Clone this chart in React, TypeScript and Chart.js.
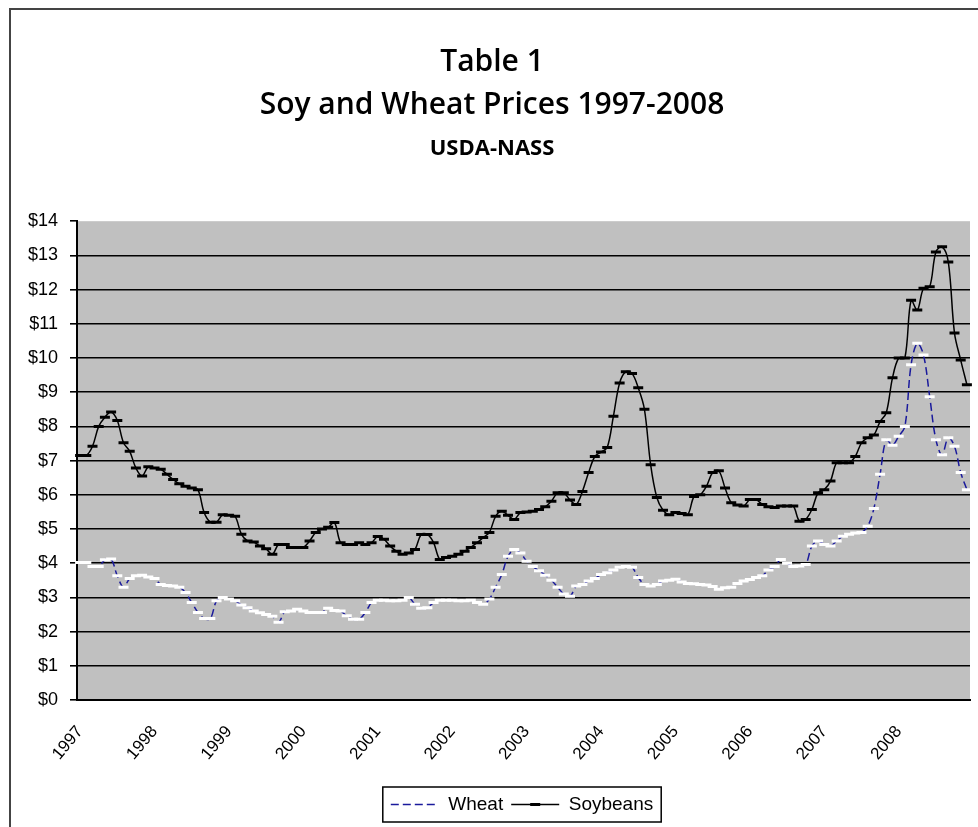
import { useEffect, useRef } from "react";
import { Chart, registerables } from "chart.js";

Chart.register(...registerables);

const years = ["1997", "1998", "1999", "2000", "2001", "2002", "2003", "2004", "2005", "2006", "2007", "2008"];
const monthNames = ["Jan", "Feb", "Mar", "Apr", "May", "Jun", "Jul", "Aug", "Sep", "Oct", "Nov", "Dec"];

// Monthly soybean price, $/bu
const soybeans = [
  7.15, 7.15, 7.42, 8.0, 8.27, 8.42, 8.17, 7.52, 7.27, 6.78, 6.55, 6.82,
  6.78, 6.75, 6.6, 6.45, 6.32, 6.25, 6.2, 6.15, 5.48, 5.2, 5.2, 5.42,
  5.4, 5.37, 4.85, 4.65, 4.62, 4.5, 4.42, 4.26, 4.55, 4.55, 4.46, 4.46,
  4.46, 4.65, 4.9, 5.0, 5.05, 5.19, 4.6, 4.55, 4.55, 4.6, 4.55, 4.6,
  4.78, 4.7, 4.5, 4.35, 4.26, 4.3, 4.4, 4.84, 4.84, 4.6, 4.11, 4.17,
  4.2, 4.26, 4.35, 4.46, 4.6, 4.75, 4.9, 5.37, 5.52, 5.4, 5.28, 5.48,
  5.5, 5.52, 5.57, 5.65, 5.81, 6.06, 6.06, 5.85, 5.72, 6.1, 6.65, 7.12,
  7.25, 7.38, 8.3, 9.27, 9.6, 9.55, 9.13, 8.5, 6.88, 5.92, 5.55, 5.42,
  5.48, 5.45, 5.42, 5.95, 6.0, 6.25, 6.65, 6.7, 6.2, 5.77, 5.7, 5.67,
  5.86, 5.86, 5.72, 5.65, 5.63, 5.67, 5.67, 5.67, 5.23, 5.28, 5.57, 6.06,
  6.15, 6.4, 6.94, 6.94, 6.94, 7.12, 7.52, 7.67, 7.75, 8.14, 8.4, 9.42,
  10.0, 10.0, 11.69, 11.4, 12.04, 12.08, 13.1, 13.25, 12.81, 10.73, 9.94, 9.22,
];

// Monthly wheat price, $/bu
const wheat = [
  4.02, 4.02, 3.9, 3.9, 4.1, 4.12, 3.63, 3.3, 3.55, 3.63, 3.65, 3.6,
  3.55, 3.38, 3.35, 3.33, 3.3, 3.14, 2.85, 2.56, 2.38, 2.38, 2.9, 3.0,
  2.95, 2.9, 2.78, 2.7, 2.6, 2.55, 2.5, 2.45, 2.27, 2.58, 2.6, 2.65,
  2.6, 2.56, 2.56, 2.56, 2.68, 2.62, 2.6, 2.46, 2.36, 2.36, 2.56, 2.85,
  2.92, 2.92, 2.9, 2.9, 2.92, 3.0, 2.8, 2.68, 2.7, 2.85, 2.92, 2.92,
  2.92, 2.9, 2.9, 2.92, 2.85, 2.8, 2.95, 3.3, 3.67, 4.2, 4.4, 4.3,
  4.06, 3.9, 3.78, 3.65, 3.5, 3.3, 3.1, 3.03, 3.33, 3.38, 3.48, 3.55,
  3.67, 3.72, 3.8, 3.88, 3.9, 3.88, 3.58, 3.38, 3.33, 3.38, 3.48, 3.5,
  3.53, 3.45, 3.41, 3.4, 3.38, 3.36, 3.32, 3.24, 3.28, 3.3, 3.41, 3.48,
  3.52, 3.58, 3.63, 3.8, 3.9, 4.11, 4.0, 3.9, 3.92, 3.96, 4.5, 4.65,
  4.55, 4.5, 4.65, 4.79, 4.85, 4.88, 4.9, 5.08, 5.6, 6.6, 7.61, 7.45,
  7.71, 8.0, 9.8, 10.43, 10.09, 8.87, 7.61, 7.17, 7.67, 7.42, 6.65, 6.15,
];

const yMin = 0;
const yMax = 14;
const yStep = 1;

const wheatColor = "#1a1a9c";
const soyColor = "#000000";

const monthLabels = years.flatMap((y) => monthNames.map((m) => `${m} ${y}`));

export default function App() {
  const canvasRef = useRef<HTMLCanvasElement>(null);

  useEffect(() => {
    const canvas = canvasRef.current;
    if (!canvas) return;

    const plotBg = {
      id: "plotBg",
      beforeDraw(chart: any) {
        const { ctx, chartArea } = chart;
        ctx.save();
        ctx.fillStyle = "#c0c0c0";
        ctx.fillRect(chartArea.left, chartArea.top, chartArea.right - chartArea.left, chartArea.bottom - chartArea.top);
        ctx.restore();
      },
    };

    const legendShift = 30;

    const legendBox = {
      id: "legendBox",
      afterUpdate(chart: any) {
        const lg = chart.legend;
        if (!lg) return;
        lg.left += legendShift;
        lg.right += legendShift;
        if (lg.legendHitBoxes) {
          for (const hb of lg.legendHitBoxes) hb.left += legendShift;
        }
      },
      afterDraw(chart: any) {
        const lg = chart.legend;
        if (!lg || !lg.legendHitBoxes || lg.legendHitBoxes.length === 0) return;
        const boxes = lg.legendHitBoxes;
        const first = boxes[0];
        const last = boxes[boxes.length - 1];
        const ctx = chart.ctx;
        ctx.save();
        ctx.strokeStyle = "#000";
        ctx.lineWidth = 1.5;
        const l = first.left - 8;
        const r = last.left + last.width + 8;
        const t = first.top - 8;
        const b = first.top + first.height + 8;
        ctx.strokeRect(l, t, r - l, b - t);
        // small marker on the soybean legend line
        const sb = boxes[1];
        if (sb) {
          const cx = sb.left + 24;
          const cy = sb.top + sb.height / 2;
          ctx.beginPath();
          ctx.lineWidth = 3;
          ctx.strokeStyle = soyColor;
          ctx.moveTo(cx - 5, cy);
          ctx.lineTo(cx + 5, cy);
          ctx.stroke();
        }
        ctx.restore();
      },
    };

    const chart = new Chart(canvas, {
      type: "line",
      data: {
        labels: monthLabels,
        datasets: [
          {
            label: "Wheat",
            data: wheat,
            borderColor: wheatColor,
            borderWidth: 1.5,
            borderDash: [8, 4],
            pointStyle: "line",
            pointRadius: 5,
            pointBorderWidth: 3,
            pointBorderColor: "#ffffff",
            pointBackgroundColor: "#ffffff",
            tension: 0.35,
            fill: false,
          },
          {
            label: "Soybeans",
            data: soybeans,
            borderColor: soyColor,
            borderWidth: 1.5,
            pointStyle: "line",
            pointRadius: 5,
            pointBorderWidth: 3,
            pointBorderColor: soyColor,
            pointBackgroundColor: soyColor,
            tension: 0.35,
            fill: false,
          },
        ],
      },
      options: {
        animation: false,
        responsive: true,
        maintainAspectRatio: false,
        layout: { padding: { left: 0, right: 5, top: 0, bottom: 3 } },
        plugins: {
          title: {
            display: true,
            text: ["Table 1", "Soy and Wheat Prices 1997-2008"],
            color: "#000",
            font: { family: "'Open Sans', sans-serif", size: 30, weight: "600", lineHeight: 1.43 },
            padding: { top: 31, bottom: 0 },
          },
          subtitle: {
            display: true,
            text: "USDA-NASS",
            color: "#000",
            font: { family: "'Open Sans', sans-serif", size: 22, weight: "bold", lineHeight: 1.2 },
            padding: { top: 9, bottom: 59 },
          },
          legend: {
            display: true,
            position: "bottom",
            labels: {
              color: "#000",
              font: { family: "'Liberation Sans', Arial, sans-serif", size: 19 },
              usePointStyle: true,
              pointStyleWidth: 48,
              boxHeight: 10,
              padding: 8,
              generateLabels: (chart: any) =>
                chart.data.datasets.map((ds: any, i: number) => ({
                  text: ds.label,
                  fillStyle: ds.borderColor,
                  strokeStyle: ds.borderColor,
                  lineWidth: 1.5,
                  lineDash: ds.borderDash || [],
                  pointStyle: "line",
                  hidden: false,
                  datasetIndex: i,
                  fontColor: "#000",
                })),
            },
          },
          tooltip: { enabled: false },
        },
        scales: {
          x: {
            type: "category",
            offset: true,
            grid: { display: false },
            border: { display: true, color: "#000", width: 2 },
            afterFit(scale: any) {
              scale.height = 87;
              scale.paddingLeft = 0;
              scale.paddingRight = 0;
            },
            ticks: {
              autoSkip: false,
              minRotation: 50,
              maxRotation: 50,
              padding: 14,
              color: "#000",
              font: { family: "'Liberation Sans', Arial, sans-serif", size: 17 },
              callback: (_v: any, i: number) => (i % 12 === 0 ? years[i / 12] : ""),
            },
          },
          y: {
            min: yMin,
            max: yMax,
            afterFit(scale: any) {
              scale.width = 66;
              scale.paddingTop = 0;
              scale.paddingBottom = 0;
            },
            grid: {
              color: (c: any) => (c.tick && c.tick.value === yMax ? "rgba(0,0,0,0)" : "#000"),
              tickColor: "#000",
              lineWidth: 1.6,
              tickLength: 7,
              drawTicks: true,
            },
            border: { display: true, color: "#000", width: 2 },
            ticks: {
              stepSize: yStep,
              padding: 12,
              color: "#000",
              font: { family: "'Liberation Sans', Arial, sans-serif", size: 18 },
              callback: (v: any) => "$" + v,
            },
          },
        },
      },
      plugins: [plotBg, legendBox],
    });

    return () => chart.destroy();
  }, []);

  return (
    <div
      style={{
        position: "fixed",
        left: 9,
        top: 8,
        width: 969,
        height: 819,
        boxSizing: "border-box",
        borderLeft: "2px solid #444",
        borderTop: "2px solid #444",
        background: "#fff",
      }}
    >
      <div style={{ position: "relative", width: 967, height: 817 }}>
        <canvas ref={canvasRef} />
      </div>
    </div>
  );
}
